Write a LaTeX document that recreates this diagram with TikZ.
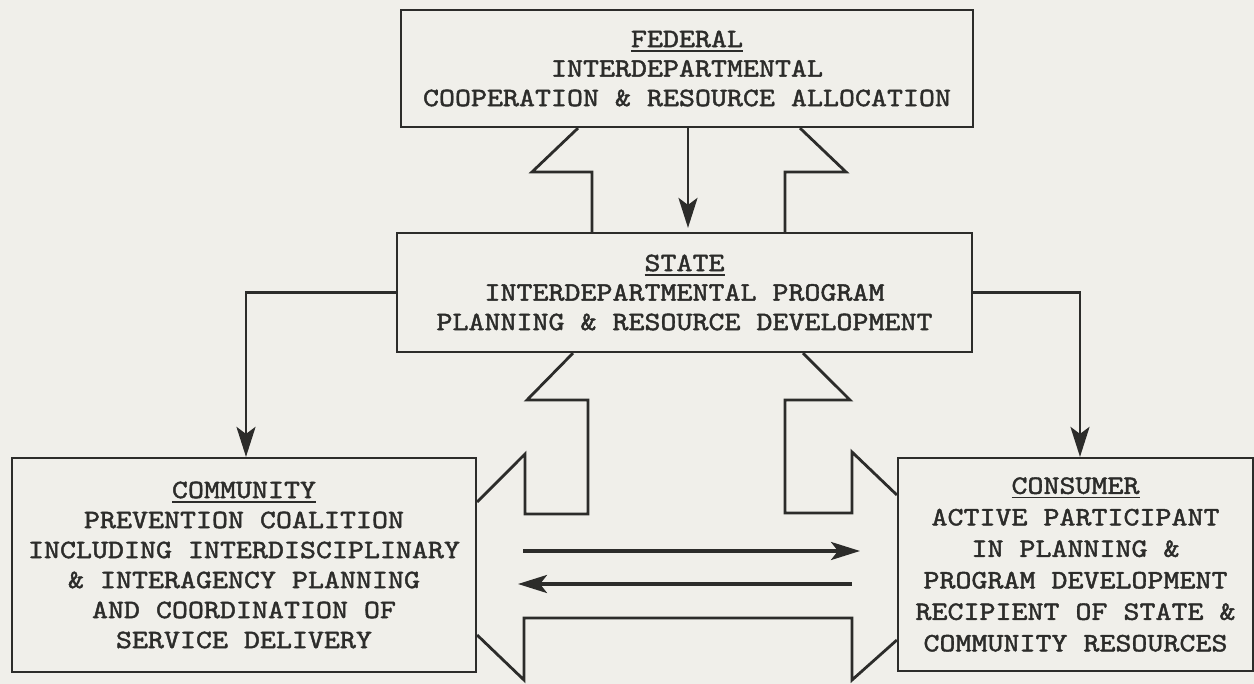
\documentclass[tikz,border=0pt]{standalone}
\usepackage{fontspec}
\usetikzlibrary{arrows.meta}
\newfontfamily\typewriter{lmmono10-regular.otf}[FakeStretch=1.15,FakeBold=1.6]
\definecolor{paper}{RGB}{240,239,234}
\definecolor{ink}{RGB}{44,44,42}
% underlined heading word
\newcommand\headword[1]{\setbox0\hbox{#1}\rlap{\rule[-4.5pt]{\wd0}{1.8pt}}\box0}
\begin{document}
\begin{tikzpicture}[x=1pt,y=-1pt,
  box/.style={draw=ink, line width=2.2pt, inner sep=0pt, align=center, text=ink,
    font={\typewriter\fontsize{26.5}{29.5}\selectfont}},
  conn/.style={draw=ink, line width=2.8pt},
  pointer/.style={conn, -{Stealth[length=30pt,width=19pt,inset=7pt]}},
  flow/.style={draw=ink, line width=3.6pt, -{Stealth[length=29pt,width=18pt,inset=7pt]}},
  hollow/.style={draw=ink, line width=2.8pt}
]
% paper and page size
\fill[paper] (0,0) rectangle (1254,684);
\useasboundingbox (0,0) rectangle (1254,684);

% the four levels
\node[box, minimum width=572pt, minimum height=117pt] (federal) at (687,68.5)
  {\headword{FEDERAL}\\INTERDEPARTMENTAL\\COOPERATION \& RESOURCE ALLOCATION};
\node[box, minimum width=575pt, minimum height=119pt] (state) at (684.5,292.5)
  {\headword{STATE}\\INTERDEPARTMENTAL PROGRAM\\PLANNING \& RESOURCE DEVELOPMENT};
\node[box, minimum width=464pt, minimum height=214pt,
  font={\typewriter\fontsize{26.5}{30}\selectfont}] (community) at (244,565)
  {\headword{COMMUNITY}\\PREVENTION COALITION\\INCLUDING INTERDISCIPLINARY\\\& INTERAGENCY PLANNING\\AND COORDINATION OF\\SERVICE DELIVERY};
\node[box, minimum width=355pt, minimum height=213pt,
  font={\typewriter\fontsize{26.5}{31.5}\selectfont}] (consumer) at (1075.5,564.5)
  {\headword{CONSUMER}\\ACTIVE PARTICIPANT\\IN PLANNING \&\\PROGRAM DEVELOPMENT\\RECIPIENT OF STATE \&\\COMMUNITY RESOURCES};

% single-line arrows
\draw[pointer, shorten >=4pt] (federal.south -| 688,0) -- (state.north -| 688,0);
\draw[pointer] (state.west) -| ([xshift=2pt]community.north);
\draw[pointer] (state.east) -| ([xshift=4.5pt]consumer.north);

% broad arrow between federal and state
\draw[hollow] (federal.south -| 578,0) -- (532,172) -- (592,172) -- (state.north -| 592,0);
\draw[hollow] (federal.south -| 800,0) -- (846,172) -- (785,172) -- (state.north -| 785,0);

% broad arrow from state down into the community/consumer channel
\draw[hollow] (state.south -| 573,0) -- (527,400) -- (588,400) -- (588,514)
  -- (525,514) -- (525,454) -- (community.east |- 0,502);
\draw[hollow] (state.south -| 803,0) -- (850,400) -- (785,400) -- (785,513)
  -- (852,513) -- (852,452) -- (consumer.west |- 0,495);
\draw[hollow] (community.east |- 0,635) -- (524,680) -- (524,618) -- (852,618)
  -- (852,680) -- (consumer.west |- 0,640);

% two-way exchange between community and consumer
\coordinate (cl1) at (523,551);
\coordinate (cr1) at (860,551);
\coordinate (cr2) at (852,584);
\coordinate (cl2) at (518,584);
\draw[flow] (cl1) -- (cr1);
\draw[flow] (cr2) -- (cl2);
\end{tikzpicture}
\end{document}
